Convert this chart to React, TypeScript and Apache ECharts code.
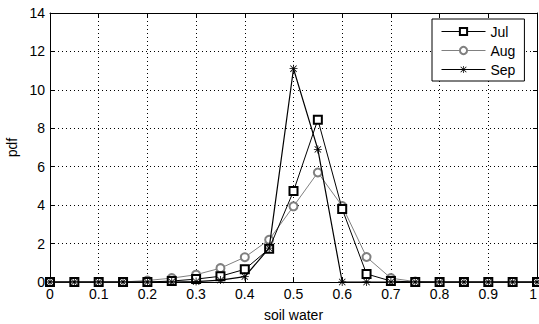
import React, { useEffect, useRef } from "react";
import * as echarts from "echarts";

const xValues = [0, 0.05, 0.1, 0.15, 0.2, 0.25, 0.3, 0.35, 0.4, 0.45, 0.5, 0.55, 0.6, 0.65, 0.7, 0.75, 0.8, 0.85, 0.9, 0.95, 1.0];
const julValues = [0, 0, 0, 0, 0, 0.05, 0.15, 0.3, 0.66, 1.73, 4.73, 8.45, 3.8, 0.42, 0.05, 0, 0, 0, 0, 0, 0];
const augValues = [0, 0, 0, 0, 0.08, 0.2, 0.38, 0.72, 1.29, 2.2, 3.94, 5.7, 3.95, 1.3, 0.2, 0.02, 0, 0, 0, 0, 0];
const sepValues = [0, 0, 0, 0, 0, 0, 0.02, 0.1, 0.28, 1.76, 11.1, 6.9, 0, 0, 0, 0, 0, 0, 0, 0, 0];
const seriesNames = ["Jul", "Aug", "Sep"];

const ASTERISK =
  "path://M4.5 0 H5.5 V10 H4.5 Z M0 4.5 H10 V5.5 H0 Z M0.7 1.4 L1.4 0.7 L9.3 8.6 L8.6 9.3 Z M8.6 0.7 L9.3 1.4 L1.4 9.3 L0.7 8.6 Z";

const pair = (ys: number[]) => xValues.map((x, i) => [x, ys[i]]);

export default function App() {
  const ref = useRef<HTMLDivElement>(null);
  useEffect(() => {
    if (!ref.current) return;
    const chart = echarts.init(ref.current, undefined, { renderer: "svg" });
    const font = "Arial, 'Liberation Sans', sans-serif";
    const grid = { lineStyle: { color: "#000", width: 1, type: [1, 3] as any } };
    chart.setOption({
      animation: false,
      backgroundColor: "#fff",
      textStyle: { fontFamily: font },
      grid: { left: 50, right: 2, top: 13, bottom: 42, outerBoundsMode: "none", containLabel: false },
      legend: {
        orient: "vertical",
        left: 432,
        top: 19,
        padding: [5, 9, 4, 9],
        itemGap: 4,
        itemWidth: 44,
        itemHeight: 9,
        backgroundColor: "#fff",
        borderColor: "#000",
        borderWidth: 1,
        borderRadius: 0,
        lineStyle: { width: 1 },
        itemStyle: { borderWidth: 1 },
        textStyle: { fontFamily: font, fontSize: 14, color: "#000", lineHeight: 15 },
        data: seriesNames,
      },
      xAxis: [
        {
          type: "value",
          min: 0,
          max: 1,
          interval: 0.1,
          name: "soil water",
          nameLocation: "middle",
          nameGap: 26,
          nameTextStyle: { fontFamily: font, fontSize: 14, color: "#000" },
          axisLine: { onZero: false, lineStyle: { color: "#000", width: 1 } },
          axisTick: { inside: true, length: 4, lineStyle: { color: "#000" } },
          axisLabel: {
            fontFamily: font,
            fontSize: 14,
            color: "#000",
            margin: 5,
            alignMaxLabel: "right",
            formatter: (v: number) => String(+v.toFixed(1)),
          },
          splitLine: { show: true, ...grid },
        },
        {
          type: "value",
          position: "top",
          min: 0,
          max: 1,
          interval: 0.1,
          axisLine: { onZero: false, lineStyle: { color: "#000", width: 1 } },
          axisTick: { inside: true, length: 4, lineStyle: { color: "#000" } },
          axisLabel: { show: false },
          splitLine: { show: false },
        },
      ],
      yAxis: [
        {
          type: "value",
          min: 0,
          max: 14,
          interval: 2,
          name: "pdf",
          nameLocation: "middle",
          nameGap: 28,
          nameTextStyle: { fontFamily: font, fontSize: 14, color: "#000" },
          axisLine: { show: true, onZero: false, lineStyle: { color: "#000", width: 1 } },
          axisTick: { show: true, inside: true, length: 4, lineStyle: { color: "#000" } },
          axisLabel: { fontFamily: font, fontSize: 14, color: "#000", margin: 5 },
          splitLine: { show: true, ...grid },
        },
        {
          type: "value",
          position: "right",
          min: 0,
          max: 14,
          interval: 2,
          axisLine: { show: true, onZero: false, lineStyle: { color: "#000", width: 1 } },
          axisTick: { show: true, inside: true, length: 4, lineStyle: { color: "#000" } },
          axisLabel: { show: false },
          splitLine: { show: false },
        },
      ],
      series: [
        {
          name: "Jul",
          type: "line",
          data: pair(julValues),
          symbol: "emptyRect",
          symbolSize: 8,
          lineStyle: { color: "#000", width: 1 },
          itemStyle: { color: "#000", borderColor: "#000", borderWidth: 1 },
          z: 3,
        },
        {
          name: "Aug",
          type: "line",
          data: pair(augValues),
          symbol: "emptyCircle",
          symbolSize: 8,
          lineStyle: { color: "#808080", width: 1 },
          itemStyle: { color: "#808080", borderColor: "#808080", borderWidth: 1 },
          z: 2,
        },
        {
          name: "Sep",
          type: "line",
          data: pair(sepValues),
          symbol: ASTERISK,
          symbolSize: 8,
          lineStyle: { color: "#000", width: 1.2 },
          itemStyle: { color: "#000" },
          z: 4,
        },
      ],
    });
    return () => chart.dispose();
  }, []);
  return (
    <div
      ref={ref}
      style={{ position: "fixed", left: 0, top: 0, width: 539, height: 324 }}
    />
  );
}
